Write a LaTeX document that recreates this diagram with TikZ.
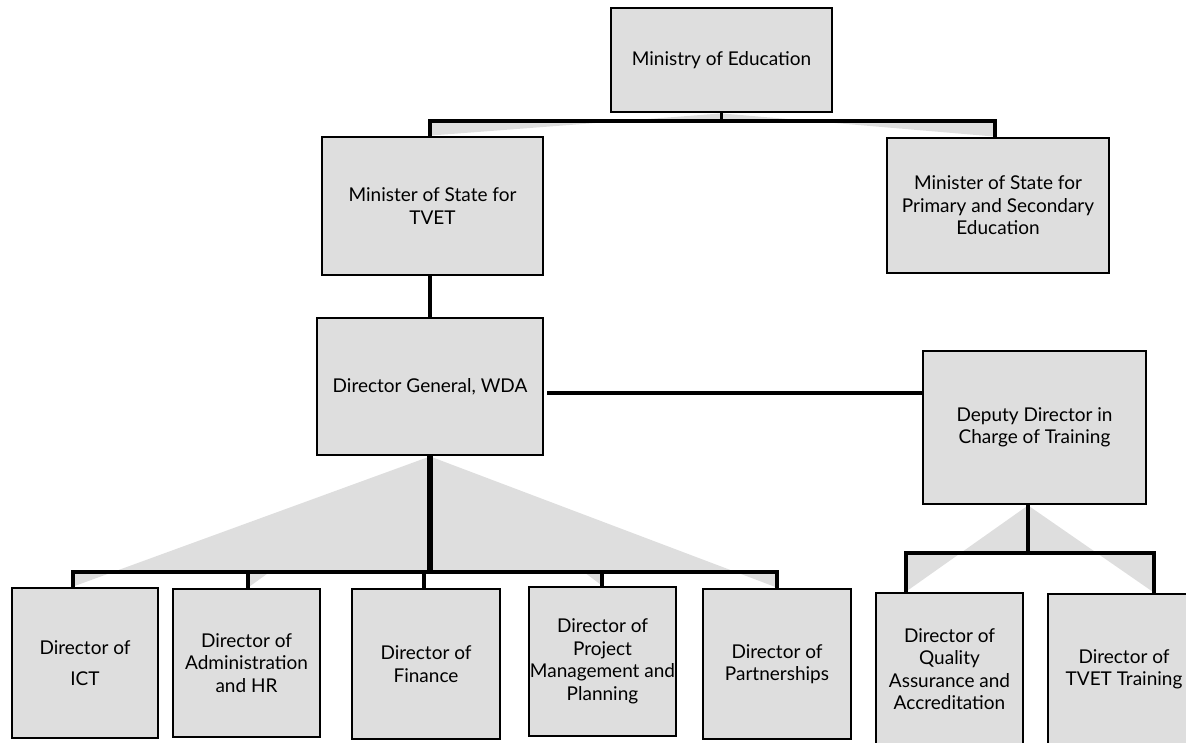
\documentclass[tikz,border=0pt]{standalone}
\usepackage{fontspec}
\setmainfont{Lato}
\definecolor{boxgray}{RGB}{222,222,222}
\definecolor{fangray}{RGB}{222,222,222}
\pgfdeclarelayer{bg}
\pgfsetlayers{bg,main}
\begin{document}
\begin{tikzpicture}[x=1pt,y=-1pt,
  orgbox/.style={draw=black, fill=boxgray, line width=2.8pt, align=center, inner sep=0pt,
    font=\fontsize{19}{22.5}\selectfont},
  conn/.style={draw=black, line width=3.2pt, line join=miter},
  trunk/.style={draw=black, line width=5.5pt},
  fan/.style={fill=fangray, draw=none}]
\useasboundingbox (0,0) rectangle (1186,742);
% boxes
\node[orgbox, minimum width=221pt, minimum height=104pt] (moe) at (721.5,60) {Ministry of Education};
\node[orgbox, minimum width=221pt, minimum height=138pt] (tvet) at (432.5,206) {Minister of State for\\TVET};
\node[orgbox, minimum width=222pt, minimum height=135pt] (pse) at (998,205.5) {Minister of State for\\Primary and Secondary\\Education};
\node[orgbox, minimum width=226pt, minimum height=137pt] (dg) at (430,386.5) {Director General, WDA};
\node[orgbox, minimum width=223pt, minimum height=153pt] (dep) at (1034.5,427.5) {Deputy Director in\\Charge of Training};
\node[orgbox, minimum width=146pt, minimum height=150pt] (ict) at (85,663) {Director of\\[8pt]ICT};
\node[orgbox, minimum width=147pt, minimum height=148pt] (adm) at (246.5,663) {Director of\\Administration\\and HR};
\node[orgbox, minimum width=148pt, minimum height=150pt] (fin) at (426,664) {Director of\\Finance};
\node[orgbox, minimum width=147pt, minimum height=149pt] (pm) at (602.5,661.5) {Director of\\Project\\Management and\\Planning};
\node[orgbox, minimum width=148pt, minimum height=150pt] (pa) at (777,664) {Director of\\Partnerships};
\node[orgbox, minimum width=147pt, minimum height=152pt] (qa) at (949.5,669) {Director of\\Quality\\Assurance and\\Accreditation};
\node[orgbox, minimum width=152pt, minimum height=151pt] (tt) at (1124,669.5) {Director of\\TVET Training};
% junctions
\coordinate (jTV) at (430,121);
\coordinate (jPS) at (995,121);
\coordinate (hl) at (547,393);
\coordinate (jICT) at (73,572);
\coordinate (jADM) at (248,572);
\coordinate (jFIN) at (424,572);
\coordinate (jPM) at (602,572);
\coordinate (jPA) at (777,572);
\coordinate (dv) at (1028,0);
\coordinate (jQA) at (906,553);
\coordinate (jTT) at (1154,553);
\begin{pgfonlayer}{bg}
% fans
\fill[fan] (moe.south) -- (moe.south |- jTV) -- (jTV) -- (jTV |- tvet.north) -- cycle;
\fill[fan] (moe.south) -- (moe.south |- jPS) -- (jPS) -- (jPS |- pse.north) -- cycle;
\fill[fan] (dg.south) -- (dg.south |- jICT) -- (jICT) -- (jICT |- ict.north) -- cycle;
\fill[fan] (dg.south) -- (dg.south |- jADM) -- (jADM) -- (jADM |- adm.north) -- cycle;
\fill[fan] (dg.south) -- (dg.south |- jPM) -- (jPM) -- (jPM |- pm.north) -- cycle;
\fill[fan] (dg.south) -- (dg.south |- jPA) -- (jPA) -- (jPA |- pa.north) -- cycle;
\fill[fan] (dv |- dep.south) -- (dv |- jQA) -- (jQA) -- (jQA |- qa.north) -- cycle;
\fill[fan] (dv |- dep.south) -- (dv |- jTT) -- (jTT) -- (jTT |- tt.north) -- cycle;
% connectors
\draw[conn] (moe.south) -- (moe.south |- jTV);
\draw[conn] (jTV |- tvet.north) -- (jTV) -- (jPS) -- (jPS |- pse.north);
\draw[conn] (dg.north |- tvet.south) -- (dg.north);
\draw[conn] (hl) -- (hl -| dep.west);
\draw[trunk] (dg.south) -- (dg.south |- jICT);
\draw[conn] (jICT |- ict.north) -- (jICT) -- (jPA) -- (jPA |- pa.north);
\draw[conn] (jADM) -- (jADM |- adm.north);
\draw[conn] (jFIN) -- (jFIN |- fin.north);
\draw[conn] (jPM) -- (jPM |- pm.north);
\draw[conn] (dv |- dep.south) -- (dv |- jQA);
\draw[conn] (jQA |- qa.north) -- (jQA) -- (jTT) -- (jTT |- tt.north);
\end{pgfonlayer}
\end{tikzpicture}
\end{document}
